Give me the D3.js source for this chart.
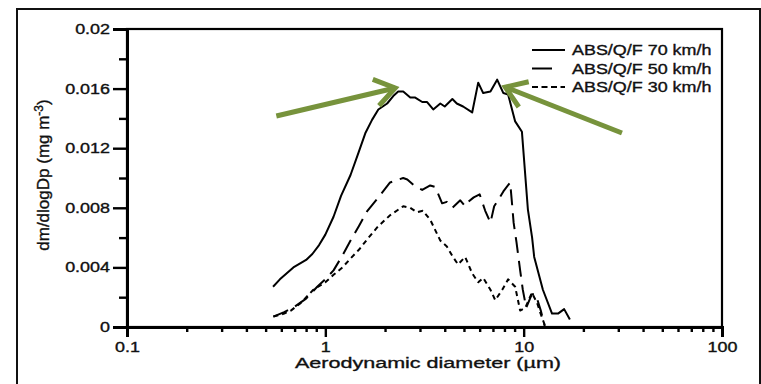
<!DOCTYPE html>
<html>
<head>
<meta charset="utf-8">
<script src="https://cdn.jsdelivr.net/npm/d3@7"></script>
<style>
  body { margin: 0; background: #fff; }
  text { font-family: "Liberation Sans", Arial, sans-serif; fill: #111; stroke: #111; stroke-width: 0.35px; }
</style>
</head>
<body>
<div id="chart"></div>
<script>
// series: aerodynamic diameter (um) and dm/dlogDp (mg m-3)
var seriesNames = ["ABS/Q/F 70 km/h", "ABS/Q/F 50 km/h", "ABS/Q/F 30 km/h"];

var x70 = [0.545, 0.59, 0.69, 0.8, 0.86, 0.93, 1.0, 1.1, 1.2, 1.34, 1.47, 1.59, 1.72, 1.85, 2.05, 2.2, 2.33, 2.47, 2.68, 2.84, 3.08, 3.26, 3.5, 3.8, 4.0, 4.37, 4.6, 4.95, 5.5, 5.9, 6.25, 6.8, 7.35, 7.9, 8.35, 9.06, 9.8, 10.5, 11.03, 11.3, 12.5, 13.9, 14.9, 16.0, 17.1];
var y70 = [0.0027, 0.0032, 0.004, 0.0045, 0.0049, 0.0055, 0.0062, 0.0074, 0.0088, 0.0102, 0.0117, 0.013, 0.0139, 0.0146, 0.015, 0.0155, 0.0158, 0.0158, 0.0154, 0.0154, 0.0151, 0.0151, 0.0146, 0.015, 0.0148, 0.0153, 0.015, 0.0148, 0.0144, 0.0164, 0.0157, 0.0158, 0.0166, 0.0157, 0.0156, 0.0138, 0.0131, 0.0079, 0.006, 0.0047, 0.0025, 0.0009, 0.0009, 0.0012, 0.0005];

var x50 = [0.547, 0.62, 0.69, 0.8, 0.91, 1.0, 1.1, 1.22, 1.34, 1.48, 1.63, 1.85, 2.12, 2.47, 2.59, 2.8, 3.08, 3.38, 3.58, 3.88, 4.1, 4.37, 4.79, 5.07, 5.26, 5.6, 6.0, 6.4, 6.8, 7.1, 7.5, 7.9, 8.55, 8.76, 8.9, 9.2, 9.6, 9.9, 10.3, 11.0, 11.5, 12.2, 12.8];
var y50 = [0.0007, 0.001, 0.0013, 0.0019, 0.0027, 0.0032, 0.0038, 0.0048, 0.0058, 0.0068, 0.0078, 0.0087, 0.0097, 0.01, 0.0099, 0.0095, 0.0092, 0.0095, 0.0094, 0.0083, 0.0084, 0.008, 0.0085, 0.0081, 0.0084, 0.0087, 0.0089, 0.0078, 0.007, 0.0081, 0.0086, 0.0091, 0.0097, 0.0081, 0.007, 0.0057, 0.0038, 0.0025, 0.0013, 0.0022, 0.0022, 0.0011, 0.0];

var x30 = [0.547, 0.62, 0.67, 0.75, 0.87, 1.0, 1.1, 1.22, 1.34, 1.48, 1.63, 1.83, 2.12, 2.47, 2.68, 2.9, 3.1, 3.38, 3.8, 4.1, 4.4, 4.67, 5.07, 5.5, 5.9, 6.25, 6.8, 7.19, 7.8, 8.35, 9.06, 9.6, 10.2, 11.0, 11.7, 12.1, 12.8];
var y30 = [0.0007, 0.0009, 0.0011, 0.0016, 0.0025, 0.003, 0.0035, 0.004, 0.0046, 0.0052, 0.0059, 0.0067, 0.0075, 0.0081, 0.008, 0.0077, 0.0078, 0.0072, 0.0058, 0.0054, 0.0047, 0.0042, 0.0047, 0.0036, 0.003, 0.0033, 0.0025, 0.0018, 0.0025, 0.0032, 0.0027, 0.0011, 0.0013, 0.0023, 0.0016, 0.001, 0.0001];

// axis ticks
var xMajor = [0.1, 1, 10, 100];
var xTickLabels = ["0.1", "1", "10", "100"];
var xMinor = [0.2, 0.3, 0.4, 0.5, 0.6, 0.7, 0.8, 0.9, 2, 3, 4, 5, 6, 7, 8, 9, 20, 30, 40, 50, 60, 70, 80, 90];
var yMajor = [0, 0.004, 0.008, 0.012, 0.016, 0.02];
var yTickLabels = ["0", "0.004", "0.008", "0.012", "0.016", "0.02"];
var yMinor = [0.002, 0.006, 0.01, 0.014, 0.018];

// green arrow annotations: [tail, tip] in data units
var arrowTails = [[0.566, 0.01416], [31.3, 0.01302]];
var arrowTips = [[2.25, 0.01604], [8.08, 0.0161]];

var width = 761, height = 384;
var stretch = 1.28; // the source picture is stretched sideways

var svg = d3.select('#chart').append('svg')
      .attr('width', width)
      .attr('height', height);

//outer frame of the screenshot
svg.append('rect')
      .attr('x', 17).attr('y', 9)
      .attr('width', 743).attr('height', 400)
      .attr('fill', 'none').attr('stroke', '#111').attr('stroke-width', 2);

var x = d3.scaleLog().domain([0.1, 100]).range([127, 722]);
var y = d3.scaleLinear().domain([0, 0.02]).range([327, 29]);

//plot box
svg.append('rect')
      .attr('x', x(0.1)).attr('y', y(0.02))
      .attr('width', x(100) - x(0.1)).attr('height', y(0) - y(0.02))
      .attr('fill', 'none').attr('stroke', '#000').attr('stroke-width', 2.2);

//y axis, minor then major
var yMin = svg.append('g').attr('transform', 'translate(' + x(0.1) + ',0)')
      .call(d3.axisLeft(y).tickValues(yMinor).tickSize(8).tickFormat(''));
var yMaj = svg.append('g').attr('transform', 'translate(' + x(0.1) + ',0)')
      .call(d3.axisLeft(y).tickValues(yMajor).tickSize(14).tickPadding(3)
            .tickFormat(function (d, i) { return yTickLabels[i]; }));

//x axis, minor then major
var xMin = svg.append('g').attr('transform', 'translate(0,' + y(0) + ')')
      .call(d3.axisBottom(x).tickValues(xMinor).tickSize(5).tickFormat(''));
var xMaj = svg.append('g').attr('transform', 'translate(0,' + y(0) + ')')
      .call(d3.axisBottom(x).tickValues(xMajor).tickSize(10).tickPadding(5)
            .tickFormat(function (d, i) { return xTickLabels[i]; }));

[yMin, yMaj, xMin, xMaj].forEach(function (ax) {
      ax.select('.domain').attr('stroke', '#000').attr('stroke-width', 3);
      ax.selectAll('.tick line').attr('stroke', '#000').attr('stroke-width', 2.4);
      ax.selectAll('.tick text').attr('font-size', 14).attr('class', 'wide')
            .style('font-family', '"Liberation Sans", Arial, sans-serif').attr('fill', '#111');
});

//curves
var line = d3.line()
      .x(function (d) { return x(d[0]); })
      .y(function (d) { return y(d[1]); });

var series = [
      { xs: x70, ys: y70, dash: null },
      { xs: x50, ys: y50, dash: '16,8' },
      { xs: x30, ys: y30, dash: '5,4' }
];
series.forEach(function (s) {
      var pts = s.xs.map(function (v, i) { return [v, s.ys[i]]; });
      svg.append('path')
            .attr('d', line(pts))
            .attr('fill', 'none')
            .attr('stroke', '#000')
            .attr('stroke-width', 2)
            .attr('stroke-linejoin', 'round')
            .attr('stroke-dasharray', s.dash);
});

//legend
var legendDash = [null, '20,20', '6,3.5'];
var leg = svg.append('g');
seriesNames.forEach(function (name, i) {
      var ly = 50 + i * 18.5;
      leg.append('line')
            .attr('x1', 532).attr('x2', 565).attr('y1', ly).attr('y2', ly)
            .attr('stroke', '#000').attr('stroke-width', 2)
            .attr('stroke-dasharray', legendDash[i]);
      leg.append('text')
            .attr('class', 'wide')
            .attr('x', 572).attr('y', ly + 5)
            .attr('font-size', 14)
            .text(name);
});

//axis titles
svg.append('text')
      .attr('x', 428).attr('y', 368)
      .attr('text-anchor', 'middle')
      .attr('font-size', 15.5)
      .attr('textLength', 266).attr('lengthAdjust', 'spacingAndGlyphs')
      .text('Aerodynamic diameter (\u00b5m)');

var yt = svg.append('text')
      .attr('transform', 'translate(49,175) rotate(-90)')
      .attr('text-anchor', 'middle')
      .attr('font-size', 17);
yt.append('tspan').text('dm/dlogDp (mg m');
yt.append('tspan').attr('dy', -6).attr('font-size', 12).text('-3');
yt.append('tspan').attr('dy', 6).text(')');

//green arrows
var green = '#77933c';
arrowTails.forEach(function (t, i) {
      var x0 = x(t[0]), y0 = y(t[1]);
      var x1 = x(arrowTips[i][0]), y1 = y(arrowTips[i][1]);
      var ang = Math.atan2(y0 - y1, x0 - x1);
      var g = svg.append('g').attr('stroke', green).attr('stroke-width', 5)
            .attr('stroke-linecap', 'butt').attr('fill', 'none');
      g.append('line').attr('x1', x0).attr('y1', y0).attr('x2', x1).attr('y2', y1);
      var headLen = 24, spread = 0.6;
      var p = d3.path();
      p.moveTo(x1 + headLen * Math.cos(ang + spread), y1 + headLen * Math.sin(ang + spread));
      p.lineTo(x1, y1);
      p.lineTo(x1 + headLen * Math.cos(ang - spread), y1 + headLen * Math.sin(ang - spread));
      g.append('path').attr('d', p.toString()).attr('stroke-linejoin', 'miter');
});

//widen horizontal texts to match the stretched source
svg.selectAll('text.wide').each(function () {
      var w = this.getComputedTextLength();
      d3.select(this).attr('textLength', w * stretch).attr('lengthAdjust', 'spacingAndGlyphs');
});
</script>
</body>
</html>
